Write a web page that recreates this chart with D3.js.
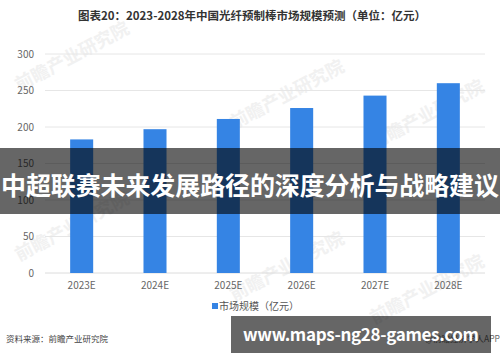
<!DOCTYPE html>
<html>
<head>
  <meta charset="UTF-8">
  <title>光纤预制棒市场规模预测</title>
  <script src="https://cdnjs.cloudflare.com/ajax/libs/d3/7.8.5/d3.min.js"></script>
  <style>
    body { margin: 0; background: #fff; }
    text { font-family: "Noto Sans CJK SC", "Noto Sans", sans-serif; }
    .axis path { display: none; }
    .axis line { display: none; }
    .axis text { fill: #666; font-size: 10px; }
  </style>
</head>
<body>
<script>
    // Data
    const years = ["2023E", "2024E", "2025E", "2026E", "2027E", "2028E"];
    const marketSize = [183, 197, 211, 226, 243, 260];
    const yTicks = [0, 50, 100, 150, 200, 250, 300];

    const W = 500, H = 362;
    const svg = d3.select("body").append("svg")
      .attr("width", W)
      .attr("height", H);

    // watermarks
    const marks = [[75, 62], [75, 232], [290, 100], [290, 272], [430, 120], [430, 295]];
    svg.selectAll(".wm")
      .data(marks)
      .enter()
      .append("text")
      .attr("class", "wm")
      .attr("transform", d => `translate(${d[0]},${d[1]}) rotate(-28)`)
      .attr("text-anchor", "middle")
      .attr("font-size", 18)
      .attr("font-weight", "bold")
      .attr("fill", "#f1f1f1")
      .text("前瞻产业研究院");

    // Title
    svg.append("text")
      .attr("x", 252)
      .attr("y", 20)
      .attr("text-anchor", "middle")
      .attr("font-size", 11.5)
      .attr("font-weight", "bold")
      .attr("fill", "#333")
      .text("图表20：2023-2028年中国光纤预制棒市场规模预测（单位：亿元）");

    // Scales
    const x = d3.scaleBand()
      .domain(years)
      .range([45, 485])
      .paddingInner(0.686)
      .paddingOuter(0.343);

    const y = d3.scaleLinear()
      .domain([0, 300])
      .range([273, 54]);

    // grid
    svg.selectAll(".grid")
      .data(yTicks)
      .enter()
      .append("line")
      .attr("x1", 45)
      .attr("x2", 485)
      .attr("y1", d => y(d))
      .attr("y2", d => y(d))
      .attr("stroke", d => d === 0 ? "#dcdcdc" : "#e6e6e6")
      .attr("stroke-width", 1);

    // Axes
    svg.append("g")
      .attr("class", "axis")
      .attr("transform", "translate(34,0)")
      .call(d3.axisLeft(y).tickValues(yTicks).tickSize(0).tickPadding(0));

    svg.append("g")
      .attr("class", "axis")
      .attr("transform", "translate(0,279)")
      .call(d3.axisBottom(x).tickSize(0).tickPadding(3));

    // Bars
    svg.selectAll(".bar")
      .data(marketSize)
      .enter()
      .append("rect")
      .attr("class", "bar")
      .attr("x", (d, i) => x(years[i]))
      .attr("y", d => y(d))
      .attr("width", x.bandwidth())
      .attr("height", d => y(0) - y(d))
      .attr("fill", "#3584e4");

    // Legend
    svg.append("rect")
      .attr("x", 212).attr("y", 303)
      .attr("width", 6).attr("height", 6)
      .attr("fill", "#3584e4");
    svg.append("text")
      .attr("x", 219).attr("y", 310)
      .attr("font-size", 10)
      .attr("fill", "#555")
      .text("市场规模（亿元）");

    // Source
    svg.append("text")
      .attr("x", 6).attr("y", 342)
      .attr("font-size", 8.5)
      .attr("fill", "#444")
      .text("资料来源：前瞻产业研究院");
    svg.append("text")
      .attr("x", 500).attr("y", 342)
      .attr("text-anchor", "end")
      .attr("font-size", 8.5)
      .attr("fill", "#666")
      .text("@前瞻经济学人APP");

    // Overlay banner
    svg.append("rect")
      .attr("x", 0).attr("y", 148)
      .attr("width", W).attr("height", 66)
      .attr("fill", "rgba(0,0,0,0.6)");
    svg.append("text")
      .attr("x", 250).attr("y", 195)
      .attr("text-anchor", "middle")
      .attr("font-size", 25)
      .attr("font-weight", "bold")
      .attr("fill", "#fff")
      .attr("textLength", 498)
      .text("中超联赛未来发展路径的深度分析与战略建议");

    // url box
    svg.append("rect")
      .attr("x", 231).attr("y", 316)
      .attr("width", 260).attr("height", 37)
      .attr("fill", "rgba(0,0,0,0.6)");
    svg.append("text")
      .attr("x", 361).attr("y", 341)
      .attr("text-anchor", "middle")
      .attr("font-family", "'DejaVu Sans', sans-serif")
      .attr("font-size", 17)
      .attr("font-weight", "bold")
      .attr("fill", "#fff")
      .attr("textLength", 236)
      .text("www.maps-ng28-games.com");
  </script>
</body>
</html>
